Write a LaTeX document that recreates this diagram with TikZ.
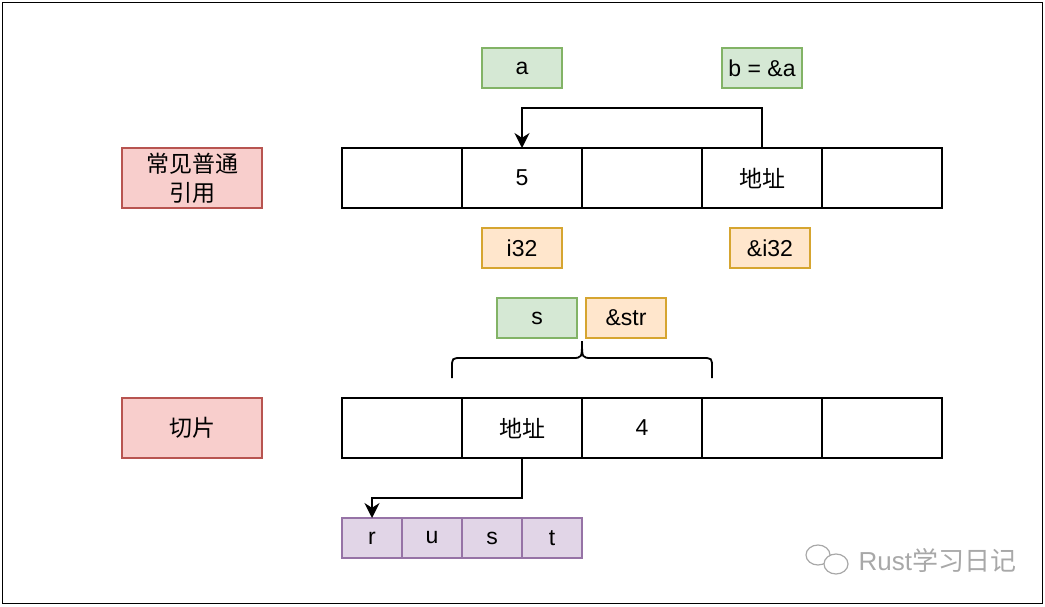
\documentclass[tikz,border=0pt]{standalone}
\usepackage{fontspec}
\setmainfont{Liberation Sans}
\newfontfamily\cjk{Noto Sans CJK SC}
\usepackage{tikz}
\usetikzlibrary{arrows.meta,positioning}
\definecolor{redfill}{HTML}{F8CECC}
\definecolor{redline}{HTML}{B85450}
\definecolor{greenfill}{HTML}{D5E8D4}
\definecolor{greenline}{HTML}{82B366}
\definecolor{orangefill}{HTML}{FFE6CC}
\definecolor{orangeline}{HTML}{D6A530}
\definecolor{purplefill}{HTML}{E1D5E7}
\definecolor{purpleline}{HTML}{9673A6}
\definecolor{wmgray}{HTML}{A8A8A8}

\begin{document}
\begin{tikzpicture}[
  x=0.5pt, y=-0.5pt,
  node distance=0pt,
  every node/.style={font=\fontsize{11.5}{14.5}\selectfont, outer sep=0pt},
  cell/.style={rectangle, draw, line width=1pt, minimum width=60pt, minimum height=30pt, inner sep=0pt},
  labelbox/.style={rectangle, draw=redline, fill=redfill, line width=0.9pt, minimum width=70pt, minimum height=30pt, inner sep=0pt, align=center},
  varbox/.style={rectangle, draw=greenline, fill=greenfill, line width=0.9pt, minimum width=40pt, minimum height=20pt, inner sep=0pt},
  typebox/.style={rectangle, draw=orangeline, fill=orangefill, line width=0.9pt, minimum width=40pt, minimum height=20pt, inner sep=0pt},
  charbox/.style={rectangle, draw=purpleline, fill=purplefill, line width=0.9pt, minimum width=30pt, minimum height=20pt, inner sep=0pt},
  arr/.style={-{Stealth[length=7.5pt, width=7.5pt]}, line width=1pt}
]
  \useasboundingbox (0,0) rectangle (1045,606);
  \draw[line width=0.75pt] (2.5,2.5) rectangle (1042.5,603.5);

  % common reference
  \node[labelbox] (reflabel) at (192,178) {{\cjk 常见普通}\\{\cjk 引用}};
  \node[cell] (r1c1) at (402,178) {};
  \node[cell, right=of r1c1] (r1c2) {5};
  \node[cell, right=of r1c2] (r1c3) {};
  \node[cell, right=of r1c3] (r1c4) {\cjk 地址};
  \node[cell, right=of r1c4] (r1c5) {};
  \node[varbox, above=30pt of r1c2] (vara) {a};
  \node[varbox, above=30pt of r1c4] (varb) {b = \&a};
  \node[typebox, below=10pt of r1c2] (ti32) {i32};
  \node[typebox, below=10pt of r1c4, xshift=4pt] (trefi32) {\&i32};

  \draw[arr] (r1c4.north) -- ++(0,-40) -| (r1c2.north);

  % slice
  \node[labelbox] (slicelabel) at (192,428) {\cjk 切片};
  \node[cell] (r2c1) at (402,428) {};
  \node[cell, right=of r2c1] (r2c2) {\cjk 地址};
  \node[cell, right=of r2c2] (r2c3) {4};
  \node[cell, right=of r2c3] (r2c4) {};
  \node[cell, right=of r2c4] (r2c5) {};
  \node[varbox, above=30pt of r2c2, xshift=7.5pt] (vars) {s};
  \node[typebox, right=4.5pt of vars] (tstr) {\&str};

  \coordinate (braceL) at (452,378);
  \coordinate (braceR) at (712,378);
  \draw[line width=0.9pt] (braceL) -- ++(0,-10) .. controls (452,358) .. (462,358) -- (572,358)
    .. controls (582,358) .. (582,341) .. controls (582,358) .. (592,358) -- (702,358)
    .. controls (712,358) .. (712,368) -- (braceR);

  \node[charbox] (ch1) at (372,538) {r};
  \node[charbox, right=of ch1] (ch2) {u};
  \node[charbox, right=of ch2] (ch3) {s};
  \node[charbox, right=of ch3] (ch4) {t};

  \draw[arr] (r2c2.south) -- ++(0,40) -| (ch1.north);

  % watermark
  \draw[wmgray, line width=0.6pt] (818,555) ellipse (12 and 10);
  \draw[wmgray, line width=0.6pt, fill=white] (836,564) ellipse (12 and 10);
  \node[text=wmgray, font=\fontsize{13}{15}\selectfont, anchor=west] (wmark) at (852,560) {Rust{\cjk 学习日记}};
\end{tikzpicture}
\end{document}
